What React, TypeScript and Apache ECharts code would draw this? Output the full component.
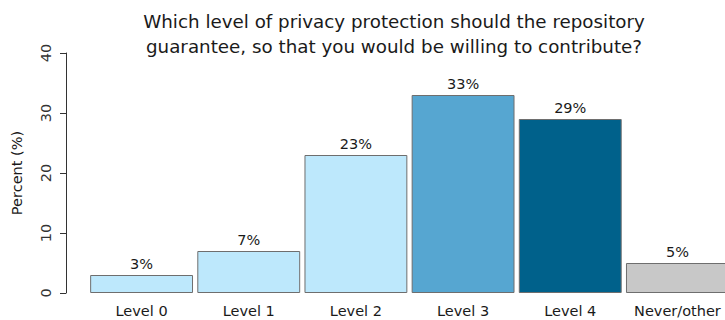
import React, { useEffect, useRef } from "react";
import * as echarts from "echarts";

const categories = ["Level 0", "Level 1", "Level 2", "Level 3", "Level 4", "Never/other"];
const values = [3, 7, 23, 33, 29, 5];
const barColors = ["#bde8fc", "#bde8fc", "#bde8fc", "#56a6d1", "#00618b", "#c8c8c8"];
const yTicks = [0, 10, 20, 30, 40];
const titleText = "Which level of privacy protection should the repository\nguarantee, so that you would be willing to contribute?";
const yName = "Percent (%)";

const FONT = "DejaVu Sans, Verdana, sans-serif";

export default function App() {
  const ref = useRef<HTMLDivElement>(null);
  useEffect(() => {
    if (!ref.current) return;
    document.body.style.margin = "0";
    document.body.style.overflow = "hidden";
    const chart = echarts.init(ref.current, null, { renderer: "svg" });
    chart.setOption({
      animation: false,
      backgroundColor: "#ffffff",
      title: {
        text: titleText,
        left: 389,
        textAlign: "center",
        top: 4,
        textStyle: { fontFamily: FONT, fontSize: 18.3, fontWeight: "normal", color: "#1a1a1a", lineHeight: 25 },
      },
      grid: { left: 88, top: 53, height: 240, width: 643, containLabel: false, outerBoundsMode: "none" },
      xAxis: {
        type: "category",
        data: categories,
        axisLine: { show: false },
        axisTick: { show: false },
        axisLabel: { fontFamily: FONT, fontSize: 14.5, color: "#1a1a1a", margin: 10, interval: 0 },
      },
      yAxis: {
        type: "value",
        min: yTicks[0],
        max: yTicks[yTicks.length - 1],
        interval: 10,
        offset: 22,
        splitLine: { show: false },
        axisLine: { show: true, lineStyle: { color: "#333333", width: 1 } },
        axisTick: { show: true, length: 6, lineStyle: { color: "#333333" } },
        axisLabel: {
          fontFamily: FONT,
          fontSize: 14.5,
          color: "#333333",
          rotate: 90,
          margin: 13,
        },
        name: yName,
        nameLocation: "middle",
        nameGap: 42,
        nameTextStyle: { fontFamily: FONT, fontSize: 14.5, color: "#1a1a1a" },
      },
      series: [
        {
          type: "bar",
          barCategoryGap: "4%",
          data: values.map((v, i) => ({
            value: v,
            itemStyle: { color: barColors[i], borderColor: "#6e6e6e", borderWidth: 1 },
          })),
          label: {
            show: true,
            position: "top",
            distance: 4,
            formatter: (p: any) => p.value + "%",
            fontFamily: FONT,
            fontSize: 14.5,
            color: "#1a1a1a",
          },
        },
      ],
    });
    return () => chart.dispose();
  }, []);
  return <div ref={ref} style={{ position: "absolute", left: 0, top: 0, width: 725, height: 320 }} />;
}
